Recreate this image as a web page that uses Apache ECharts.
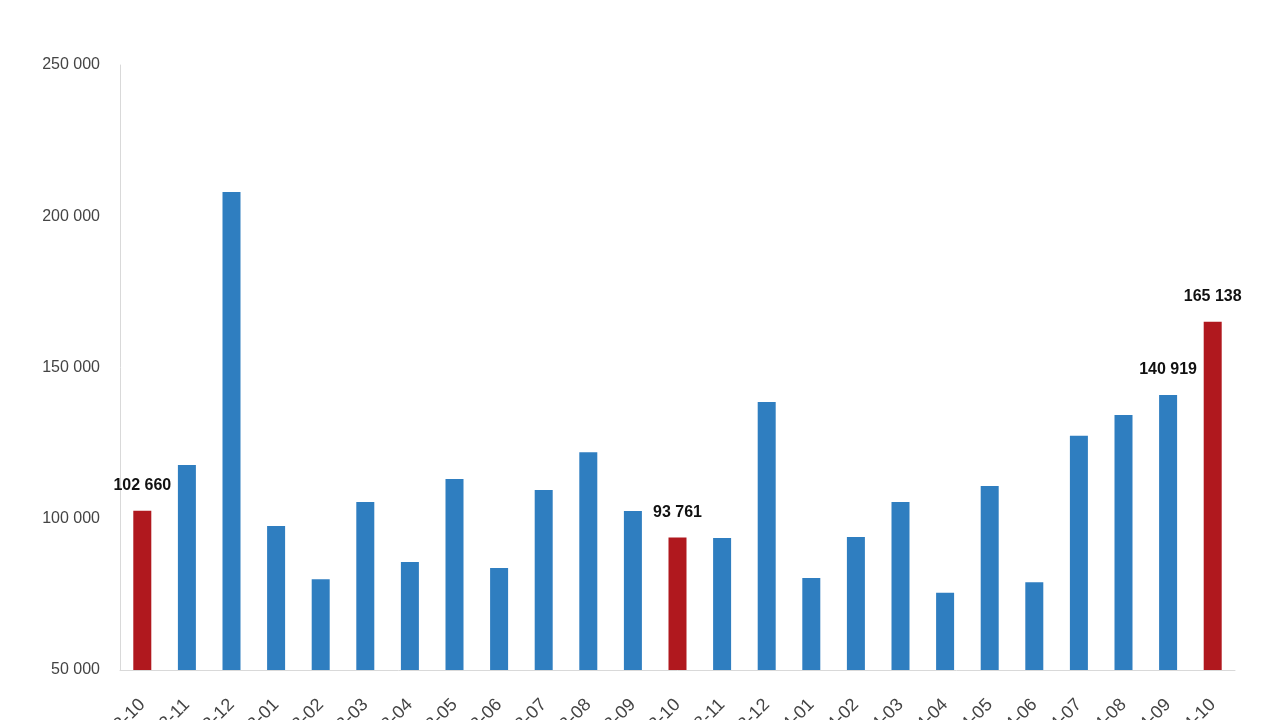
<!DOCTYPE html>
<html>
<head>
<meta charset="utf-8">
<script src="https://cdn.jsdelivr.net/npm/echarts@6/dist/echarts.min.js"></script>
<style>html,body{margin:0;padding:0;background:#fff;}#c{width:1280px;height:720px;}</style>
</head>
<body>
<div id="c"></div>
<script>
const categories = ["2012-10","2012-11","2012-12","2013-01","2013-02","2013-03","2013-04","2013-05","2013-06","2013-07","2013-08","2013-09","2013-10","2013-11","2013-12","2014-01","2014-02","2014-03","2014-04","2014-05","2014-06","2014-07","2014-08","2014-09","2014-10"];
const values = [102660,117800,208000,97600,80000,105500,85700,113100,83700,109500,122000,102600,93761,93600,138600,80400,94000,105500,75500,110800,79000,127400,134300,140919,165138];
const highlighted = [0,12,24];
const labelled = [0,12,23,24];
const yTicks = [50000,100000,150000,200000,250000];

const fmt = v => String(v).replace(/\B(?=(\d{3})+(?!\d))/g, ' ');
const chart = echarts.init(document.getElementById('c'));
chart.setOption({
  animation:false,
  backgroundColor:'#fff',
  grid:{left:120,right:45,top:65,bottom:50,containLabel:false,outerBoundsMode:'none'},
  xAxis:{
    type:'category', data:categories,
    axisLine:{lineStyle:{color:'#d9d9d9'}},
    axisTick:{show:false},
    axisLabel:{rotate:45,color:'#444',fontSize:18,margin:32,fontFamily:'Liberation Sans'}
  },
  yAxis:{
    type:'value', min:yTicks[0], max:yTicks[yTicks.length-1], interval:50000,
    axisLine:{show:true,lineStyle:{color:'#d9d9d9'}},
    axisTick:{show:false},
    splitLine:{show:false},
    axisLabel:{color:'#444',fontSize:16,margin:20,fontFamily:'Liberation Sans',formatter:fmt}
  },
  series:[{
    type:'bar', barWidth:18,
    data: values.map((v,i)=>({
      value:v,
      itemStyle:{color: highlighted.includes(i)?'#B0181E':'#2F7EC0'},
      label:{show: labelled.includes(i)}
    })),
    label:{position:'top',distance:17,color:'#111',fontWeight:'bold',fontSize:16,fontFamily:'Liberation Sans',formatter:p=>fmt(p.value)}
  }]
});
</script>
</body>
</html>
